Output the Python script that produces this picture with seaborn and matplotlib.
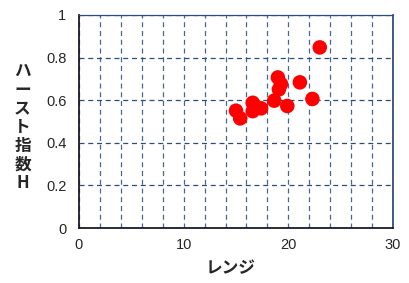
import matplotlib
matplotlib.use('Agg')
import matplotlib.pyplot as plt
import seaborn as sns
import pandas as pd

# values
range_vals = [23.0, 21.1, 22.3, 19.0, 19.3, 19.1, 18.65, 19.9, 16.6, 16.6, 17.4, 16.9, 15.0, 15.4]
hurst_vals = [0.848, 0.684, 0.606, 0.707, 0.676, 0.651, 0.598, 0.573, 0.588, 0.549, 0.562, 0.570, 0.551, 0.515]

x_label = 'レンジ'
y_label = 'ハースト指数H'

df = pd.DataFrame({'range': range_vals, 'hurst': hurst_vals})

sns.set_style('white')
plt.rcParams['font.family'] = ['Liberation Sans', 'Noto Sans CJK JP', 'DejaVu Sans']

fig = plt.figure(figsize=(4.09, 2.83), dpi=100)
ax = fig.add_axes([0.193, 0.194, 0.768, 0.753])

sns.scatterplot(data=df, x='range', y='hurst', ax=ax, color='#FF0000',
                s=110, edgecolor='none', zorder=3, legend=False)

ax.set_xlim(0, 30)
ax.set_ylim(0, 1)
ax.set_xticks([0, 10, 20, 30])
ax.set_yticks([0, 0.2, 0.4, 0.6, 0.8, 1])
ax.set_yticklabels(['0', '0.2', '0.4', '0.6', '0.8', '1'])
ax.set_xticks([v for v in range(2, 30, 2) if v % 10], minor=True)

grid_col = '#2A4C80'
ax.grid(True, which='major', axis='y', linestyle=(0, (4, 3)), color=grid_col, linewidth=0.9)
ax.grid(True, which='both', axis='x', linestyle=(0, (4, 3)), color=grid_col, linewidth=0.9, alpha=0.85)
ax.set_axisbelow(True)

ax.spines['top'].set_color(grid_col)
ax.spines['top'].set_linewidth(0.9)
ax.spines['right'].set_color('#24406E')
ax.spines['right'].set_linewidth(1.2)
for side in ['left', 'bottom']:
    ax.spines[side].set_color('#1a1a2a')
    ax.spines[side].set_linewidth(1.3)

ax.tick_params(axis='both', which='major', length=5, width=1, color='#333333',
               labelsize=10.5, pad=4)
ax.tick_params(axis='x', which='major', direction='inout', length=6)
ax.tick_params(axis='x', which='minor', length=0)

ax.set_xlabel('')
ax.set_ylabel('')
jp_font = ['Noto Sans CJK JP', 'DejaVu Sans']
fig.text(0.563, 0.02, x_label, ha='center', va='bottom', fontsize=12,
         fontweight='bold', family=jp_font)
fig.text(0.055, 0.55, '\n'.join(y_label), ha='center', va='center', fontsize=12,
         fontweight='bold', linespacing=1.05, family=jp_font)

fig.savefig('out.png', dpi=100)
